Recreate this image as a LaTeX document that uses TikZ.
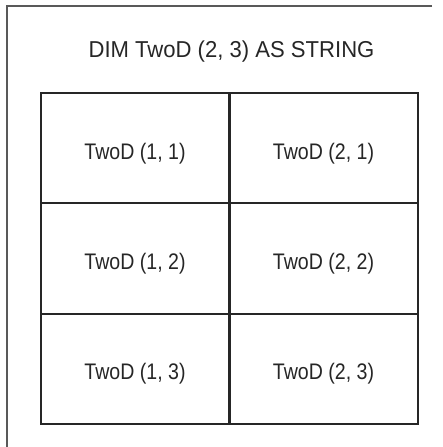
\documentclass[tikz,border=0pt]{standalone}
\usepackage{fontspec}
\setmainfont{Liberation Sans}
\newfontfamily\titlefont{Liberation Sans}[FakeStretch=0.96]
\newfontfamily\cellfont{Liberation Sans}[FakeStretch=0.87]
\begin{document}
\begin{tikzpicture}[x=1pt,y=-1pt,
  framestyle/.style={draw=black!65,line width=1.4pt},
  cellbox/.style={draw=black!85,line width=2pt,minimum width=188pt,minimum height=110.3pt,inner sep=0pt,anchor=north west},
  celltext/.style={anchor=base,text=black!85,font=\cellfont\fontsize{22.5}{26}\selectfont},
  titletext/.style={anchor=base,text=black!85,font=\titlefont\fontsize{23}{27}\selectfont}]
\useasboundingbox (0,0) rectangle (442,447);
\coordinate (ftl) at (7,6);
\coordinate (ftr) at (432,6);
\coordinate (fbl) at (7,447);
\draw[framestyle] (ftr) -- (ftl) -- (fbl);
\node[titletext] (title) at (231.5,57) {DIM TwoD (2, 3) AS STRING};
\foreach \c/\cx in {1/40,2/228.5}{
  \foreach \r in {1,2,3}{
    \node[cellbox] (cell\c\r) at (\cx,{92+(\r-1)*110.3}) {};
    \node[celltext] (text\c\r) at ([yshift=-67pt]cell\c\r.north) {TwoD (\c, \r)};
  }
}
\end{tikzpicture}
\end{document}
